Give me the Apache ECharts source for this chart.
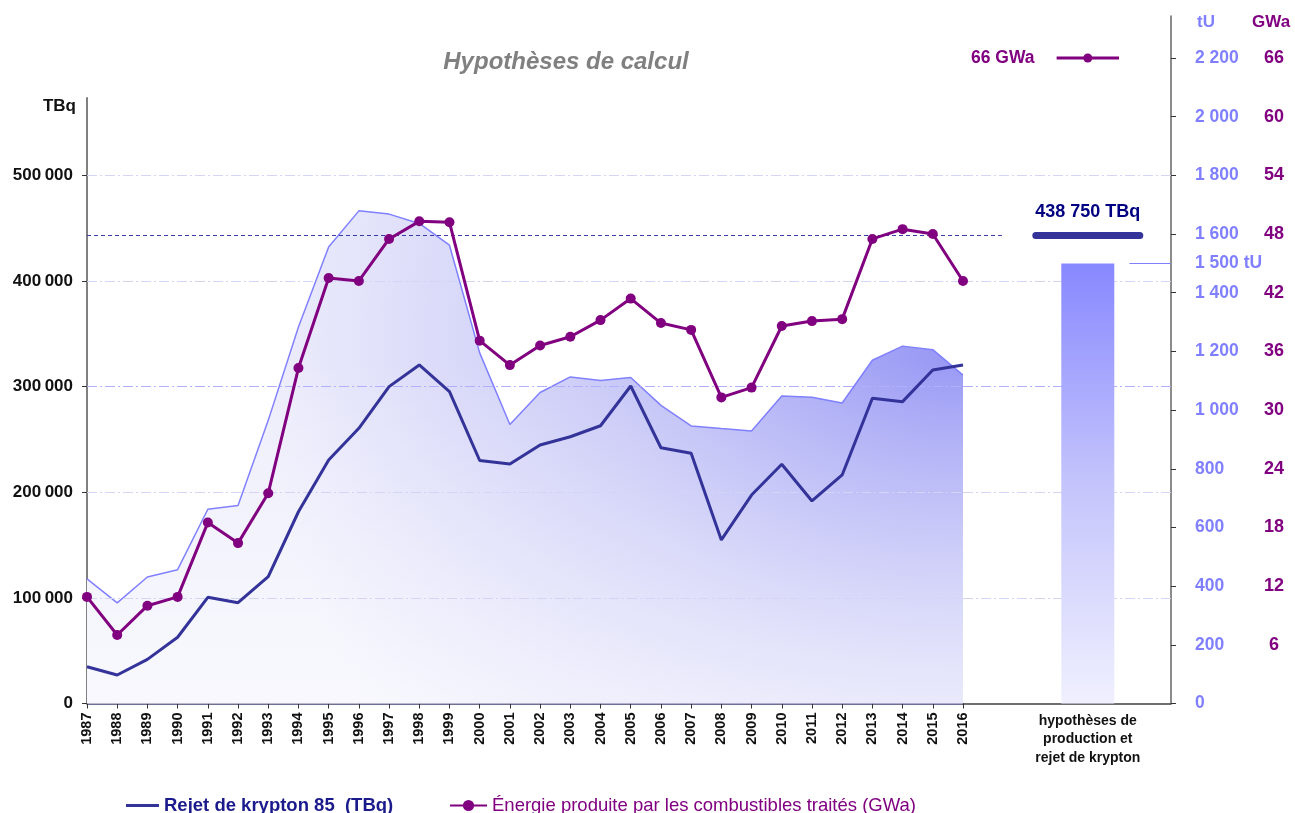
<!DOCTYPE html>
<html><head><meta charset="utf-8">
<script src="https://cdn.jsdelivr.net/npm/echarts@6/dist/echarts.min.js"></script>
<style>html,body{margin:0;padding:0;background:#fff}#c{width:1295px;height:813px}</style>
</head><body><div id="c"></div>
<script>
// ---------- DATA ----------
const years = ['1987','1988','1989','1990','1991','1992','1993','1994','1995','1996','1997','1998','1999','2000','2001','2002','2003','2004','2005','2006','2007','2008','2009','2010','2011','2012','2013','2014','2015','2016'];
const kryptonTBq = [34800, 27000, 41800, 62700, 100500, 95400, 120000, 181500, 230500, 260500, 299900, 320400, 295100, 230000, 226700, 244700, 252500, 262900, 300500, 242100, 236800, 154800, 197300, 226400, 191700, 216300, 288900, 285700, 315700, 320400];
const energyGWa = [10.9, 7.0, 10.0, 10.9, 18.5, 16.4, 21.5, 34.3, 43.5, 43.2, 47.5, 49.3, 49.2, 37.1, 34.6, 36.6, 37.5, 39.2, 41.4, 38.9, 38.2, 31.3, 32.3, 38.6, 39.1, 39.3, 47.5, 48.5, 48.0, 43.2];
const productionTU = [425, 343, 431, 456, 662, 675, 965, 1283, 1556, 1679, 1668, 1636, 1562, 1195, 951, 1060, 1113, 1101, 1111, 1016, 946, 937, 929, 1048, 1044, 1024, 1170, 1218, 1206, 1119];
const tbqTicks = [0, 100000, 200000, 300000, 400000, 500000];
const tuTicks = [0, 200, 400, 600, 800, 1000, 1200, 1400, 1600, 1800, 2000, 2200];
const gwaTicks = [6, 12, 18, 24, 30, 36, 42, 48, 54, 60, 66];
const hypoCategory = 'hypothèses de\nproduction et\nrejet de krypton';
const hypoProductionTU = 1500;
const hypoProductionLabel = '1 500 tU';
const hypoKryptonTBq = 443000;      // level drawn in the picture
const hypoKryptonLabel = '438 750 TBq';
const refEnergyGWa = 66;
const refEnergyLabel = '66 GWa';
const kryptonName = 'Rejet de krypton 85  (TBq)';
const energyName = 'Énergie produite par les combustibles traités (GWa)';
const productionName = 'Courbe de production\n(tonnes)';

// ---------- LAYOUT ----------
const FONT = '"Liberation Sans", Arial, sans-serif';
const Y0 = 703.5, PX100K = 105.65, PX2200 = 645.5;
const TOP0 = 98, TOP1 = 16;
const h0 = Y0 - TOP0, h1 = Y0 - TOP1;
const tbqMax = h => h / PX100K * 100000;
const tuMax = h => h / PX2200 * 2200;
const gwaMax = h => h / PX2200 * 66;
const NSLOT = 21, BAR_SLOT = 12;
const slots = Array.from({length: NSLOT}, (_, i) => 's' + i);
const fmt = (v, sep) => String(v).replace(/\B(?=(\d{3})+(?!\d))/g, sep);

const PURPLE = '#800080', NAVY = '#333399', TUCOL = '#8080ff', DASH = '#3a3aa8';
const gridLineStyle = v => ({color: v === 300000 ? '#b0b0ff' : '#d4d4f6', width: 1, type: [10, 3, 2, 3]});
const gridMarks = () => tbqTicks.filter(v => v > 0).map(v => ({yAxis: v, lineStyle: gridLineStyle(v)}));

const chart = echarts.init(document.getElementById('c'));
chart.setOption({
  animation: false,
  textStyle: {fontFamily: FONT},
  title: {
    text: 'Hypothèses de calcul', left: 561, top: 45, textAlign: 'center',
    textStyle: {fontFamily: FONT, fontSize: 24, fontStyle: 'italic', fontWeight: 'bold', color: '#808080'}
  },
  grid: [
    {left: 87, top: TOP0, width: 876, bottom: 813 - Y0, containLabel: false},
    {left: 963, top: TOP1, width: 208, bottom: 813 - Y0, containLabel: false}
  ],
  legend: [
    {left: 126, top: 796, padding: 0, itemWidth: 33, itemHeight: 3,
     data: [{name: kryptonName, icon: 'rect', itemStyle: {color: NAVY},
             textStyle: {color: '#1a1a8c', fontWeight: 'bold', fontSize: 18.5, fontFamily: FONT}}]},
    {left: 449, top: 796, padding: 0, itemWidth: 37, itemHeight: 14,
     data: [{name: energyName, textStyle: {color: PURPLE, fontSize: 18.5, fontFamily: FONT}}]}
  ],
  xAxis: [
    {type: 'category', gridIndex: 0, data: years, boundaryGap: false,
     axisLine: {lineStyle: {color: '#404070', width: 1.5}},
     axisTick: {length: 5, interval: 0, lineStyle: {color: '#333'}},
     axisLabel: {rotate: 90, interval: 0, margin: 9, fontSize: 14.5, fontWeight: 'bold', color: '#111', fontFamily: FONT},
     splitLine: {show: false}},
    {type: 'category', gridIndex: 1, data: slots, boundaryGap: false,
     axisLine: {lineStyle: {color: '#404040', width: 1.5}},
     axisTick: {show: false},
     axisLabel: {interval: 0, margin: 8, fontSize: 14, fontWeight: 'bold', color: '#111', lineHeight: 18.5, fontFamily: FONT,
       formatter: (v, i) => i === BAR_SLOT ? hypoCategory : ''},
     splitLine: {show: false}}
  ],
  yAxis: [
    {type: 'value', gridIndex: 0, position: 'left', min: 0, max: tbqMax(h0), interval: 100000,
     axisLine: {show: true, lineStyle: {color: '#808080', width: 2}},
     axisTick: {show: true, length: 5, customValues: tbqTicks, lineStyle: {color: '#333'}},
     axisLabel: {customValues: tbqTicks, margin: 14, fontSize: 17, fontWeight: 'bold', color: '#111', fontFamily: FONT,
       formatter: v => tbqTicks.includes(v) ? fmt(v, '\u2009') : ''},
     splitLine: {show: false}},
    {type: 'value', gridIndex: 0, min: 0, max: tuMax(h0), show: false, splitLine: {show: false}},
    {type: 'value', gridIndex: 0, min: 0, max: gwaMax(h0), show: false, splitLine: {show: false}},
    {type: 'value', gridIndex: 1, position: 'right', offset: 0, min: 0, max: tuMax(h1), interval: 200,
     axisLine: {show: true, lineStyle: {color: '#666', width: 1.5}},
     axisTick: {show: true, length: 5, customValues: tuTicks, lineStyle: {color: '#333'}},
     axisLabel: {customValues: tuTicks, margin: 24, fontSize: 17.5, fontWeight: 'bold', color: TUCOL, fontFamily: FONT,
       formatter: v => tuTicks.includes(v) ? fmt(v, ' ') : ''},
     splitLine: {show: false}},
    {type: 'value', gridIndex: 1, position: 'right', offset: 0, min: 0, max: gwaMax(h1), interval: 6,
     axisLine: {show: false}, axisTick: {show: false},
     axisLabel: {customValues: gwaTicks, margin: 103, align: 'center', fontSize: 18, fontWeight: 'bold', color: PURPLE, fontFamily: FONT,
       formatter: v => gwaTicks.includes(v) ? String(v) : ''},
     splitLine: {show: false}},
    {type: 'value', gridIndex: 1, min: 0, max: tbqMax(h1), show: false, splitLine: {show: false}}
  ],
  series: [
    {name: 'production', type: 'line', xAxisIndex: 0, yAxisIndex: 1, data: productionTU,
     symbol: 'none', silent: true, z: 1,
     lineStyle: {color: TUCOL, width: 1.5},
     areaStyle: {color: {type: 'radial', x: 0.997, y: 0.26, r: 1.42, colorStops: [
       {offset: 0, color: 'rgb(150,150,245)'}, {offset: 0.5, color: 'rgb(200,200,247)'}, {offset: 1, color: 'rgb(238,238,252)'}]}, opacity: 1}
    },
    {name: 'production-fade', type: 'line', xAxisIndex: 0, yAxisIndex: 1, data: productionTU,
     symbol: 'none', silent: true, z: 1,
     lineStyle: {width: 0, opacity: 0},
     areaStyle: {color: {type: 'linear', x: 0, y: 0, x2: 0, y2: 1, colorStops: [
       {offset: 0, color: 'rgba(255,255,255,0)'}, {offset: 0.3, color: 'rgba(255,255,255,0)'}, {offset: 1, color: 'rgba(255,255,255,0.6)'}]}, opacity: 1}
    },
    {name: 'gridlines', type: 'line', xAxisIndex: 0, yAxisIndex: 0, data: [], silent: true, z: 2,
     markLine: {z: 2, silent: true, symbol: 'none', label: {show: false}, data: gridMarks()}
    },
    {name: kryptonName, type: 'line', xAxisIndex: 0, yAxisIndex: 0, data: kryptonTBq,
     symbol: 'none', z: 3, color: NAVY,
     lineStyle: {color: NAVY, width: 3},
     markLine: {z: 2, silent: true, symbol: 'none', label: {show: false},
       data: [{yAxis: hypoKryptonTBq, lineStyle: {color: DASH, width: 1, type: [4, 3]}}]}
    },
    {name: energyName, type: 'line', xAxisIndex: 0, yAxisIndex: 2, data: energyGWa,
     symbol: 'circle', symbolSize: 10, showAllSymbol: true, z: 4, color: PURPLE,
     lineStyle: {color: PURPLE, width: 3}, itemStyle: {color: PURPLE}
    },
    // right part
    {name: 'hypo-bar', type: 'bar', xAxisIndex: 1, yAxisIndex: 3, data: [[BAR_SLOT, hypoProductionTU]],
     barWidth: 53, silent: true,
     itemStyle: {color: {type: 'linear', x: 0, y: 0, x2: 0, y2: 1, colorStops: [
       {offset: 0, color: '#8888ff'}, {offset: 0.5, color: '#c4c4fc'}, {offset: 1, color: '#f0f0ff'}]}},
     markLine: {silent: true, symbol: 'none',
       lineStyle: {color: TUCOL, width: 1.2, type: 'solid'},
       label: {show: true, position: 'end', distance: 24, formatter: hypoProductionLabel, color: TUCOL, fontSize: 17.5, fontWeight: 'bold', fontFamily: FONT},
       data: [[{coord: [16, hypoProductionTU]}, {coord: [NSLOT - 1, hypoProductionTU]}]]}
    },
    {name: 'hypo-krypton', type: 'line', xAxisIndex: 1, yAxisIndex: 5, z: 5,
     data: [[7, hypoKryptonTBq],
            {value: [BAR_SLOT, hypoKryptonTBq], label: {show: true, position: 'top', distance: 14, formatter: hypoKryptonLabel,
              color: '#000080', fontSize: 18, fontWeight: 'bold', fontFamily: FONT}},
            [17, hypoKryptonTBq]],
     symbol: 'circle', symbolSize: 1, color: NAVY, itemStyle: {color: NAVY},
     lineStyle: {color: NAVY, width: 7, cap: 'round'}
    },
    {name: 'hypo-ref', type: 'line', xAxisIndex: 1, yAxisIndex: 5, z: 2,
     data: [[0, hypoKryptonTBq], [4, hypoKryptonTBq]], symbol: 'none', silent: true,
     lineStyle: {color: DASH, width: 1, type: [4, 3]},
     markLine: {z: 2, silent: true, symbol: 'none', label: {show: false}, data: gridMarks()}
    },
    {name: 'energy-ref', type: 'line', xAxisIndex: 1, yAxisIndex: 4, z: 5,
     data: [{value: [9, refEnergyGWa], symbolSize: 0.1, label: {show: true, position: 'left', distance: 22, formatter: refEnergyLabel,
              color: PURPLE, fontSize: 17.5, fontWeight: 'bold', fontFamily: FONT}},
            {value: [BAR_SLOT, refEnergyGWa], symbolSize: 9},
            {value: [15, refEnergyGWa], symbolSize: 0.1}],
     symbol: 'circle', color: PURPLE, itemStyle: {color: PURPLE},
     lineStyle: {color: PURPLE, width: 3}
    }
  ],
  graphic: [
    {type: 'text', x: 76, y: 106, style: {text: 'TBq', fill: '#111', font: 'bold 17px ' + FONT, align: 'right', verticalAlign: 'middle'}},
    {type: 'text', x: 1197, y: 22, style: {text: 'tU', fill: TUCOL, font: 'bold 17px ' + FONT, align: 'left', verticalAlign: 'middle'}},
    {type: 'text', x: 1252, y: 22, style: {text: 'GWa', fill: PURPLE, font: 'bold 17px ' + FONT, align: 'left', verticalAlign: 'middle'}},
    {type: 'text', x: 838, y: 669, style: {text: productionName, fill: TUCOL, font: 'bold 18px ' + FONT, align: 'center', verticalAlign: 'middle', lineHeight: 20}}
  ]
});
</script></body></html>
